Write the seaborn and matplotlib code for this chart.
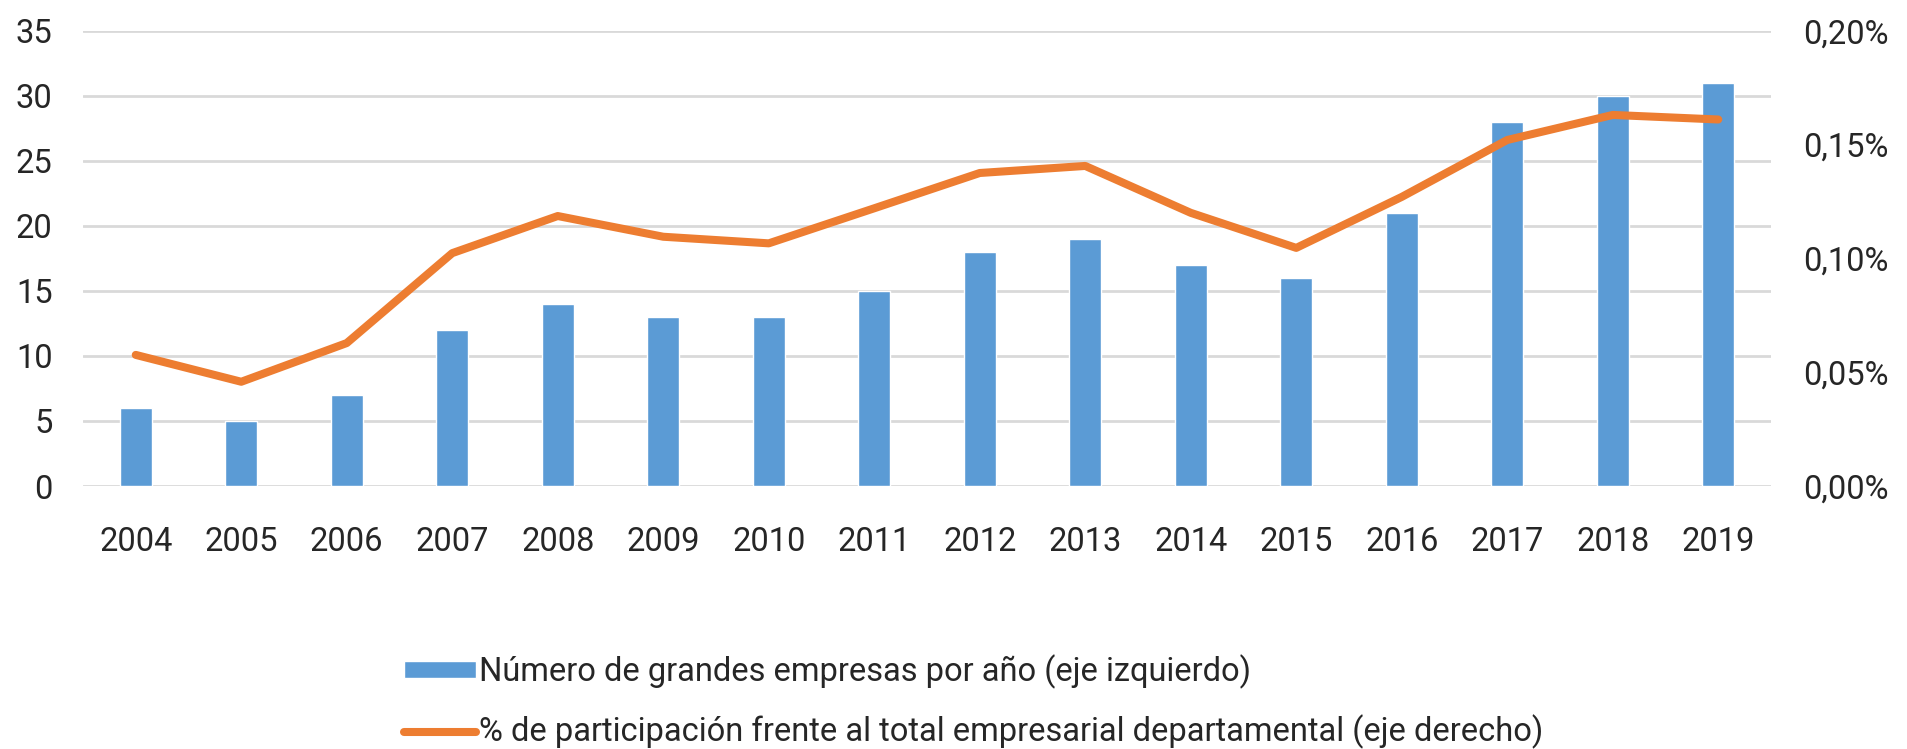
import numpy as np
import pandas as pd
import matplotlib
matplotlib.use("Agg")
import matplotlib.pyplot as plt
from matplotlib.ticker import FuncFormatter, MultipleLocator
import seaborn as sns

# datos
anios = [str(a) for a in range(2004, 2020)]
num_empresas = [6, 5, 7, 12, 14, 13, 13, 15, 18, 19, 17, 16, 21, 28, 30, 31]
participacion = [0.0576, 0.0458, 0.0628, 0.1023, 0.1186, 0.1095, 0.1066, 0.1220,
                 0.1375, 0.1406, 0.1200, 0.1046, 0.1270, 0.1520, 0.1630, 0.1610]

lbl_barras = "Número de grandes empresas por año (eje izquierdo)"
lbl_linea = "% de participación frente al total empresarial departamental (eje derecho)"

sns.set_style("white")
plt.rcParams['font.family'] = ['Roboto', 'DejaVu Sans']
plt.rcParams['font.size'] = 23.5
plt.rcParams['text.color'] = '#262626'
plt.rcParams['xtick.color'] = '#262626'
plt.rcParams['ytick.color'] = '#262626'

azul = '#5B9BD5'
naranja = '#ED7D31'

df = pd.DataFrame({'anio': anios, 'empresas': num_empresas,
                   'pos': np.arange(len(anios)), 'part': participacion})

fig = plt.figure(figsize=(19.08, 7.49), dpi=100)
ax = fig.add_axes([0.0435, 0.3511, 0.8847, 0.6079])

sns.barplot(data=df, x='anio', y='empresas', color=azul, width=0.30,
            saturation=1, ax=ax, label=lbl_barras)
ax.set_ylim(0, 35)
ax.set_xlim(-0.5, len(anios) - 0.5)
ax.yaxis.set_major_locator(MultipleLocator(5))
ax.grid(axis='y', color='#D9D9D9', linewidth=2)
ax.set_axisbelow(True)
ax.set_xlabel('')
ax.set_ylabel('')
ax.tick_params(axis='x', length=0, pad=29)
ax.tick_params(axis='y', length=0, pad=22)

ax2 = ax.twinx()
sns.lineplot(data=df, x='pos', y='part', color=naranja, linewidth=5.8,
             ax=ax2, label=lbl_linea, legend=False)
ax2.set_ylim(0, 0.20)
ax2.yaxis.set_major_locator(MultipleLocator(0.05))
ax2.yaxis.set_major_formatter(FuncFormatter(lambda v, p: f"{v:.2f}%".replace('.', ',')))
ax2.tick_params(axis='y', length=0, pad=23)
ax2.set_ylabel('')
ax2.set_xlabel('')
ax2.grid(False)

for a in (ax, ax2):
    for s in a.spines.values():
        s.set_visible(False)

# leyenda abajo, fuera del gráfico
h1, l1 = ax.get_legend_handles_labels()
h2, l2 = ax2.get_legend_handles_labels()
if ax.get_legend() is not None:
    ax.get_legend().remove()
fig.legend(h1 + h2, l1 + l2, loc='lower left', bbox_to_anchor=(0.205, -0.018),
           bbox_transform=fig.transFigure, frameon=False, handlelength=2.2,
           handleheight=0.45, handletextpad=0.1, labelspacing=0.8, borderaxespad=0)

fig.savefig("out.png", dpi=100)
